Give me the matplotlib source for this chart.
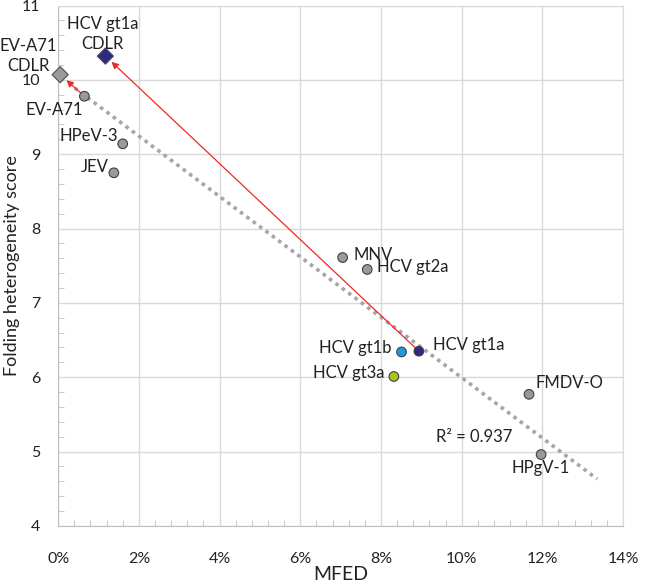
import numpy as np
import matplotlib.pyplot as plt
from matplotlib.ticker import MultipleLocator, FuncFormatter

plt.rcParams['font.family'] = ['Lato', 'DejaVu Sans']

# virus points (MFED in %, folding heterogeneity score)
names = ["EV-A71", "HPeV-3", "JEV", "MNV", "HCV gt2a", "HCV gt1b",
         "HCV gt1a", "HCV gt3a", "FMDV-O", "HPgV-1"]
mfed = [0.65, 1.60, 1.38, 7.05, 7.66, 8.51, 8.94, 8.32, 11.67, 11.97]
score = [9.78, 9.14, 8.75, 7.61, 7.45, 6.34, 6.35, 6.01, 5.77, 4.96]
colors = ["#9a9a9a", "#9a9a9a", "#9a9a9a", "#9a9a9a", "#9a9a9a", "#1e9ad8",
          "#2b2a80", "#a9c41c", "#9a9a9a", "#9a9a9a"]

# CDLR mutants
cdlr_names = ["EV-A71\nCDLR", "HCV gt1a\nCDLR"]
cdlr_mfed = [0.05, 1.17]
cdlr_score = [10.07, 10.32]
cdlr_colors = ["#9a9a9a", "#2b2a80"]

# linear trendline as drawn (R² = 0.937)
trend_x = [0.41, 13.36]
trend_y = [9.89, 4.63]

fig = plt.figure(figsize=(6.5, 5.84), dpi=100)
ax = fig.add_axes([0.0895, 0.0995, 0.869, 0.891])

ax.set_xlim(0, 14)
ax.set_ylim(4, 11)
ax.xaxis.set_major_locator(MultipleLocator(2))
ax.xaxis.set_minor_locator(MultipleLocator(0.4))
ax.yaxis.set_major_locator(MultipleLocator(1))
ax.yaxis.set_minor_locator(MultipleLocator(0.2))
ax.xaxis.set_major_formatter(FuncFormatter(lambda v, p: f"{v:.0f}%"))
ax.grid(True, which='major', color='#d9d9d9', lw=1)
ax.set_axisbelow(True)
for s in ['top', 'right']:
    ax.spines[s].set_color('#d9d9d9')
for s in ['left', 'bottom']:
    ax.spines[s].set_color('#bfbfbf')
ax.tick_params(which='major', length=0, labelsize=11.5, colors='#222222')
ax.tick_params(axis='x', which='major', pad=19)
ax.tick_params(axis='y', which='major', pad=13)
ax.tick_params(which='minor', direction='in', length=4, color='#bfbfbf')

ax.plot(trend_x, trend_y, ls=(0, (1, 1.2)), color='#a6a6a6', lw=2.6, zorder=2)

# arrows to CDLR versions
arrow_kw = dict(arrowstyle='-|>', color='#ee2a24', lw=0.9, mutation_scale=10,
                shrinkA=2, shrinkB=6)
ax.annotate("", xy=(cdlr_mfed[0], cdlr_score[0]), xytext=(mfed[0], score[0]),
            arrowprops=arrow_kw, zorder=3)
ax.annotate("", xy=(cdlr_mfed[1], cdlr_score[1]), xytext=(mfed[6], score[6]),
            arrowprops=arrow_kw, zorder=3)

ax.scatter(mfed, score, s=48, c=colors, edgecolors='#404040', linewidths=0.8,
           zorder=4, clip_on=False)
ax.scatter(cdlr_mfed, cdlr_score, s=68, marker='D', c=cdlr_colors,
           edgecolors='#505050', linewidths=0.8, zorder=4, clip_on=False)

fs = 12
# (dx, dy) offsets in points, alignments
label_pos = {
    "EV-A71": (-22, -10, 'center', 'center'),
    "HPeV-3": (-3.5, 5.5, 'right', 'center'),
    "JEV": (-4, 4.5, 'right', 'center'),
    "MNV": (8, 2, 'left', 'center'),
    "HCV gt2a": (7, 1.5, 'left', 'center'),
    "HCV gt1b": (-7, 3, 'right', 'center'),
    "HCV gt1a": (10, 4.5, 'left', 'center'),
    "HCV gt3a": (-7, 2.5, 'right', 'center'),
    "FMDV-O": (4.5, 8, 'left', 'center'),
    "HPgV-1": (0, -10, 'center', 'center'),
}
for n, x, y in zip(names, mfed, score):
    dx, dy, ha, va = label_pos[n]
    ax.annotate(n, (x, y), xytext=(dx, dy), textcoords='offset points',
                ha=ha, va=va, fontsize=fs, color='#222222', zorder=5)

ax.annotate(cdlr_names[0], (cdlr_mfed[0], cdlr_score[0]), xytext=(-23, 13.5),
            textcoords='offset points', ha='center', va='center',
            fontsize=fs, color='#222222', linespacing=1.3)
ax.annotate(cdlr_names[1], (cdlr_mfed[1], cdlr_score[1]), xytext=(-2, 16),
            textcoords='offset points', ha='center', va='center',
            fontsize=fs, color='#222222', linespacing=1.35)

ax.text(9.36, 5.2, "R² = 0.937", fontsize=fs, color='#222222',
        ha='left', va='center')

ax.set_xlabel("MFED", fontsize=14, color='#222222', va='center')
ax.set_ylabel("Folding heterogeneity score", fontsize=13, color='#222222',
              va='center')
ax.xaxis.set_label_coords(0.5, -0.094)
ax.yaxis.set_label_coords(-0.081, 0.5)

fig.savefig("out.png", dpi=100)
